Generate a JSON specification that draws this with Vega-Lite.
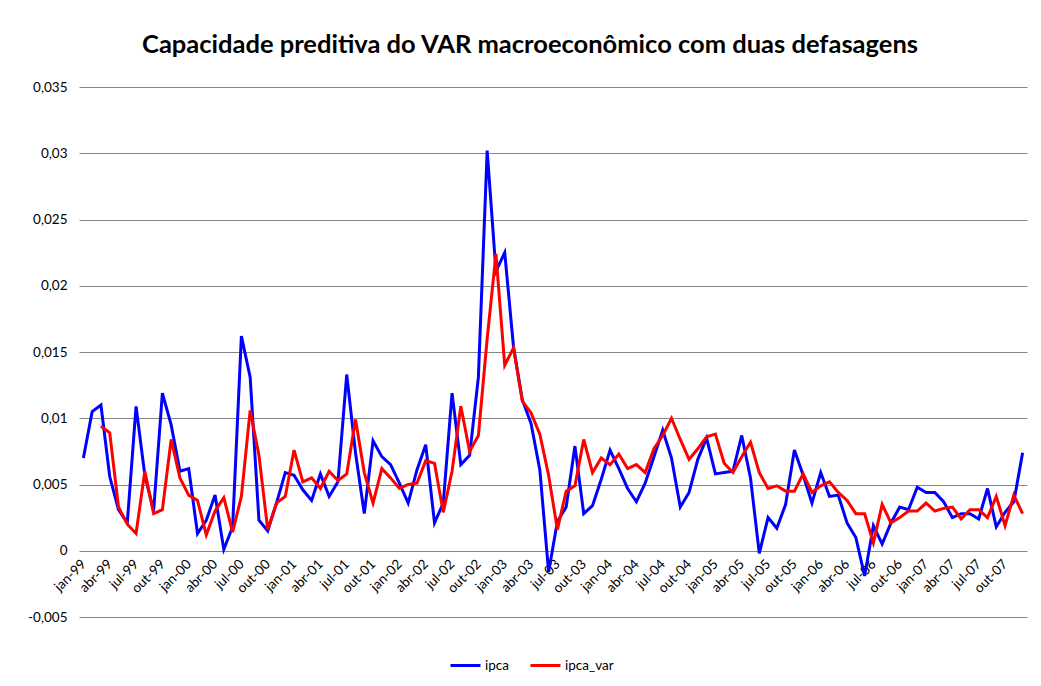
{
  "$schema": "https://vega.github.io/schema/vega-lite/v6.json",
  "width": 948,
  "height": 530,
  "autosize": {"type": "none"},
  "padding": {"left": 79, "top": 87, "right": 14, "bottom": 69},
  "background": "white",
  "config": {"font": "Lato", "view": {"stroke": null}},
  "title": {"text": "Capacidade preditiva do VAR macroeconômico com duas defasagens", "anchor": "middle", "frame": "group", "dx": -23, "offset": 2, "fontSize": 25.5, "font": "Lato", "fontWeight": "bold", "color": "black", "baseline": "alphabetic"},
  "data": {"values": [
    {"m":"1999-01","ipca":0.0070},
    {"m":"1999-02","ipca":0.0105},
    {"m":"1999-03","ipca":0.0110,"ipca_var":0.0094},
    {"m":"1999-04","ipca":0.0056,"ipca_var":0.0089},
    {"m":"1999-05","ipca":0.0031,"ipca_var":0.0033},
    {"m":"1999-06","ipca":0.0021,"ipca_var":0.0020},
    {"m":"1999-07","ipca":0.0109,"ipca_var":0.0013},
    {"m":"1999-08","ipca":0.0057,"ipca_var":0.0060},
    {"m":"1999-09","ipca":0.0030,"ipca_var":0.0028},
    {"m":"1999-10","ipca":0.0119,"ipca_var":0.0031},
    {"m":"1999-11","ipca":0.0095,"ipca_var":0.0084},
    {"m":"1999-12","ipca":0.0060,"ipca_var":0.0055},
    {"m":"2000-01","ipca":0.0062,"ipca_var":0.0042},
    {"m":"2000-02","ipca":0.0013,"ipca_var":0.0038},
    {"m":"2000-03","ipca":0.0023,"ipca_var":0.0012},
    {"m":"2000-04","ipca":0.0042,"ipca_var":0.0030},
    {"m":"2000-05","ipca":0.0001,"ipca_var":0.0040},
    {"m":"2000-06","ipca":0.0018,"ipca_var":0.0014},
    {"m":"2000-07","ipca":0.0162,"ipca_var":0.0041},
    {"m":"2000-08","ipca":0.0131,"ipca_var":0.0106},
    {"m":"2000-09","ipca":0.0023,"ipca_var":0.0072},
    {"m":"2000-10","ipca":0.0015,"ipca_var":0.0016},
    {"m":"2000-11","ipca":0.0036,"ipca_var":0.0036},
    {"m":"2000-12","ipca":0.0059,"ipca_var":0.0041},
    {"m":"2001-01","ipca":0.0057,"ipca_var":0.0076},
    {"m":"2001-02","ipca":0.0046,"ipca_var":0.0052},
    {"m":"2001-03","ipca":0.0038,"ipca_var":0.0055},
    {"m":"2001-04","ipca":0.0058,"ipca_var":0.0047},
    {"m":"2001-05","ipca":0.0041,"ipca_var":0.0060},
    {"m":"2001-06","ipca":0.0052,"ipca_var":0.0053},
    {"m":"2001-07","ipca":0.0133,"ipca_var":0.0058},
    {"m":"2001-08","ipca":0.0074,"ipca_var":0.0099},
    {"m":"2001-09","ipca":0.0028,"ipca_var":0.0059},
    {"m":"2001-10","ipca":0.0083,"ipca_var":0.0036},
    {"m":"2001-11","ipca":0.0071,"ipca_var":0.0062},
    {"m":"2001-12","ipca":0.0065,"ipca_var":0.0055},
    {"m":"2002-01","ipca":0.0051,"ipca_var":0.0047},
    {"m":"2002-02","ipca":0.0036,"ipca_var":0.0050},
    {"m":"2002-03","ipca":0.0061,"ipca_var":0.0051},
    {"m":"2002-04","ipca":0.0080,"ipca_var":0.0068},
    {"m":"2002-05","ipca":0.0021,"ipca_var":0.0066},
    {"m":"2002-06","ipca":0.0036,"ipca_var":0.0029},
    {"m":"2002-07","ipca":0.0119,"ipca_var":0.0060},
    {"m":"2002-08","ipca":0.0065,"ipca_var":0.0109},
    {"m":"2002-09","ipca":0.0072,"ipca_var":0.0075},
    {"m":"2002-10","ipca":0.0131,"ipca_var":0.0087},
    {"m":"2002-11","ipca":0.0302,"ipca_var":0.0160},
    {"m":"2002-12","ipca":0.0211,"ipca_var":0.0224},
    {"m":"2003-01","ipca":0.0225,"ipca_var":0.0140},
    {"m":"2003-02","ipca":0.0154,"ipca_var":0.0153},
    {"m":"2003-03","ipca":0.0114,"ipca_var":0.0113},
    {"m":"2003-04","ipca":0.0096,"ipca_var":0.0104},
    {"m":"2003-05","ipca":0.0061,"ipca_var":0.0088},
    {"m":"2003-06","ipca":-0.0016,"ipca_var":0.0057},
    {"m":"2003-07","ipca":0.0022,"ipca_var":0.0016},
    {"m":"2003-08","ipca":0.0033,"ipca_var":0.0045},
    {"m":"2003-09","ipca":0.0079,"ipca_var":0.0049},
    {"m":"2003-10","ipca":0.0028,"ipca_var":0.0084},
    {"m":"2003-11","ipca":0.0034,"ipca_var":0.0059},
    {"m":"2003-12","ipca":0.0054,"ipca_var":0.0070},
    {"m":"2004-01","ipca":0.0076,"ipca_var":0.0065},
    {"m":"2004-02","ipca":0.0062,"ipca_var":0.0073},
    {"m":"2004-03","ipca":0.0047,"ipca_var":0.0062},
    {"m":"2004-04","ipca":0.0037,"ipca_var":0.0065},
    {"m":"2004-05","ipca":0.0051,"ipca_var":0.0059},
    {"m":"2004-06","ipca":0.0071,"ipca_var":0.0077},
    {"m":"2004-07","ipca":0.0091,"ipca_var":0.0087},
    {"m":"2004-08","ipca":0.0070,"ipca_var":0.0100},
    {"m":"2004-09","ipca":0.0033,"ipca_var":0.0084},
    {"m":"2004-10","ipca":0.0044,"ipca_var":0.0069},
    {"m":"2004-11","ipca":0.0069,"ipca_var":0.0077},
    {"m":"2004-12","ipca":0.0085,"ipca_var":0.0086},
    {"m":"2005-01","ipca":0.0058,"ipca_var":0.0088},
    {"m":"2005-02","ipca":0.0059,"ipca_var":0.0066},
    {"m":"2005-03","ipca":0.0060,"ipca_var":0.0059},
    {"m":"2005-04","ipca":0.0087,"ipca_var":0.0071},
    {"m":"2005-05","ipca":0.0055,"ipca_var":0.0082},
    {"m":"2005-06","ipca":-0.0002,"ipca_var":0.0059},
    {"m":"2005-07","ipca":0.0025,"ipca_var":0.0047},
    {"m":"2005-08","ipca":0.0017,"ipca_var":0.0049},
    {"m":"2005-09","ipca":0.0035,"ipca_var":0.0045},
    {"m":"2005-10","ipca":0.0076,"ipca_var":0.0045},
    {"m":"2005-11","ipca":0.0057,"ipca_var":0.0058},
    {"m":"2005-12","ipca":0.0036,"ipca_var":0.0044},
    {"m":"2006-01","ipca":0.0059,"ipca_var":0.0049},
    {"m":"2006-02","ipca":0.0041,"ipca_var":0.0052},
    {"m":"2006-03","ipca":0.0042,"ipca_var":0.0044},
    {"m":"2006-04","ipca":0.0021,"ipca_var":0.0038},
    {"m":"2006-05","ipca":0.0010,"ipca_var":0.0028},
    {"m":"2006-06","ipca":-0.0019,"ipca_var":0.0028},
    {"m":"2006-07","ipca":0.0019,"ipca_var":0.0006},
    {"m":"2006-08","ipca":0.0005,"ipca_var":0.0035},
    {"m":"2006-09","ipca":0.0021,"ipca_var":0.0021},
    {"m":"2006-10","ipca":0.0033,"ipca_var":0.0025},
    {"m":"2006-11","ipca":0.0031,"ipca_var":0.0030},
    {"m":"2006-12","ipca":0.0048,"ipca_var":0.0030},
    {"m":"2007-01","ipca":0.0044,"ipca_var":0.0036},
    {"m":"2007-02","ipca":0.0044,"ipca_var":0.0030},
    {"m":"2007-03","ipca":0.0037,"ipca_var":0.0032},
    {"m":"2007-04","ipca":0.0025,"ipca_var":0.0033},
    {"m":"2007-05","ipca":0.0028,"ipca_var":0.0024},
    {"m":"2007-06","ipca":0.0028,"ipca_var":0.0031},
    {"m":"2007-07","ipca":0.0024,"ipca_var":0.0031},
    {"m":"2007-08","ipca":0.0047,"ipca_var":0.0025},
    {"m":"2007-09","ipca":0.0018,"ipca_var":0.0041},
    {"m":"2007-10","ipca":0.0029,"ipca_var":0.0019},
    {"m":"2007-11","ipca":0.0037,"ipca_var":0.0042},
    {"m":"2007-12","ipca":0.0074,"ipca_var":0.0028}
  ]},
  "transform": [{"fold": ["ipca", "ipca_var"], "as": ["serie", "valor"]}],
  "mark": {"type": "line", "strokeWidth": 3},
  "encoding": {
    "x": {
      "field": "m", "type": "ordinal",
      "scale": {"paddingOuter": 0.5},
      "axis": {
        "title": null, "offset": -66.25, "domain": false, "ticks": false, "grid": false,
        "labelAngle": -45, "labelAlign": "right", "labelBaseline": "middle", "labelPadding": 11,
        "labelFontSize": 13.5, "labelColor": "black", "labelOverlap": false,
        "labelExpr": "indexof(['01','04','07','10'], substring(datum.value,5,7)) >= 0 ? ['jan','fev','mar','abr','mai','jun','jul','ago','set','out','nov','dez'][toNumber(substring(datum.value,5,7))-1] + '-' + substring(datum.value,2,4) : ''"
      }
    },
    "y": {
      "field": "valor", "type": "quantitative",
      "scale": {"domain": [-0.005, 0.035], "nice": false, "zero": false},
      "axis": {
        "title": null, "values": [-0.005, 0, 0.005, 0.01, 0.015, 0.02, 0.025, 0.03, 0.035],
        "domain": false, "ticks": false, "grid": true, "gridColor": "#868686", "gridWidth": 1,
        "labelPadding": 12, "labelFontSize": 13.5, "labelColor": "black",
        "labelExpr": "replace('' + datum.value, '.', ',')"
      }
    },
    "color": {
      "field": "serie", "type": "nominal",
      "scale": {"domain": ["ipca", "ipca_var"], "range": ["#0000FF", "#FF0000"]},
      "legend": {
        "title": null, "orient": "none", "legendX": 370, "legendY": 562, "direction": "horizontal",
        "symbolType": "stroke", "symbolSize": 900, "symbolStrokeWidth": 3,
        "labelFontSize": 13.5, "labelColor": "black", "labelOffset": 3, "columnPadding": 15
      }
    }
  }
}
